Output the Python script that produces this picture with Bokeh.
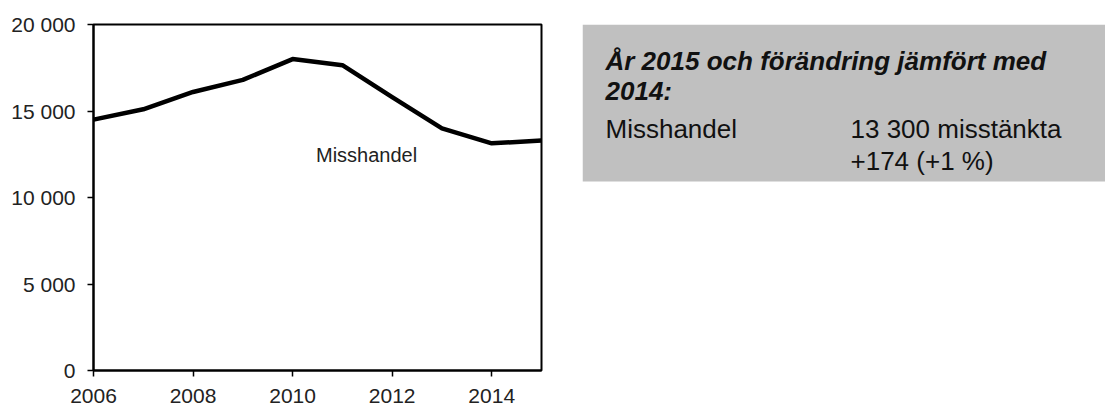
from bokeh.plotting import figure
from bokeh.layouts import row
from bokeh.models import Range1d, Label
from bokeh.embed import file_html
from bokeh.resources import INLINE

# ---- data ----
years = [2006, 2007, 2008, 2009, 2010, 2011, 2012, 2013, 2014, 2015]
misshandel = [14500, 15100, 16100, 16800, 18000, 17650, 15800, 14000, 13130, 13300]
y_ticks = [0, 5000, 10000, 15000, 20000]
y_tick_labels = ["0", "5 000", "10 000", "15 000", "20 000"]
x_ticks = [2006, 2008, 2010, 2012, 2014]
series_label = "Misshandel"
box_title = ["År 2015 och förändring jämfört med", "2014:"]
box_name = "Misshandel"
box_values = ["13 300 misstänkta", "+174 (+1 %)"]

FONT = "Liberation Sans"
TOTAL_W, TOTAL_H = 1105, 406
P1_W = 582
LEFT, TOP, FW, FH = 93, 24, 448, 346
BOTTOM = TOTAL_H - TOP - FH

p = figure(width=P1_W, height=TOTAL_H, output_backend="svg", toolbar_location=None,
           x_range=Range1d(2006, 2015), y_range=Range1d(0, 20000),
           min_border_left=LEFT, min_border_right=P1_W - LEFT - FW,
           min_border_top=TOP, min_border_bottom=BOTTOM)
p.grid.visible = False
p.outline_line_color = "black"
p.outline_line_width = 2
p.outline_line_alpha = 1

p.line(years, misshandel, line_color="black", line_width=4.5, line_join="round")

p.yaxis.ticker = y_ticks
p.yaxis.major_label_overrides = {t: s for t, s in zip(y_ticks, y_tick_labels)}
p.xaxis.ticker = x_ticks
for ax in (p.xaxis[0], p.yaxis[0]):
    ax.axis_line_color = "black"
    ax.axis_line_width = 2
    ax.major_tick_line_color = "black"
    ax.major_tick_line_width = 1.5
    ax.major_tick_in = 0
    ax.major_tick_out = 6
    ax.minor_tick_line_color = None
    ax.major_label_text_font = FONT
    ax.major_label_text_font_size = "21px"
    ax.major_label_text_color = "#222222"
p.yaxis.major_label_standoff = 12
p.xaxis.major_label_standoff = 12

p.add_layout(Label(x=2010.47, y=12430, text=series_label, text_font=FONT,
                   text_font_size="20px", text_color="#222222",
                   text_baseline="alphabetic"))

# ---- info box (pixel coordinates of the page, frame aligned with chart frame) ----
W2 = TOTAL_W - P1_W
q = figure(width=W2, height=TOTAL_H, output_backend="svg", toolbar_location=None,
           x_range=Range1d(0, W2), y_range=Range1d(TOP + FH, TOP),
           min_border_left=0, min_border_right=0,
           min_border_top=TOP, min_border_bottom=BOTTOM)
q.axis.visible = False
q.grid.visible = False
q.outline_line_color = None
q.quad(left=0, right=W2, top=24, bottom=181, fill_color="#c0c0c0", line_color=None)

q.text(x=[23, 23], y=[60, 90], text=box_title, text_font={"value": FONT},
       text_font_style="bold italic", text_font_size="26px", text_color="#111111",
       text_baseline="alphabetic")
q.text(x=[23], y=[128], text=[box_name], text_font={"value": FONT},
       text_font_size="26px", text_color="#111111", text_baseline="alphabetic")
q.text(x=[268, 268], y=[128, 160], text=box_values, text_font={"value": FONT},
       text_font_size="26px", text_color="#111111", text_baseline="alphabetic")

layout = row(p, q, spacing=0)
open("out.html", "w").write(file_html(layout, INLINE))
